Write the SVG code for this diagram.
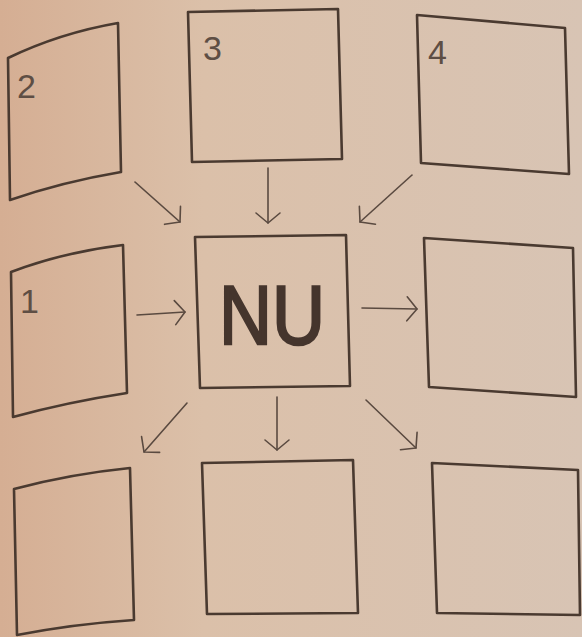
<svg xmlns="http://www.w3.org/2000/svg" width="582" height="637" viewBox="0 0 582 637">
<defs>
<linearGradient id="bg" x1="0" y1="0" x2="1" y2="0">
<stop offset="0" stop-color="#d5ae93"/>
<stop offset="0.35" stop-color="#dbc0a9"/>
<stop offset="1" stop-color="#d8c4b4"/>
</linearGradient>
<marker id="ah" markerUnits="userSpaceOnUse" viewBox="-14 -14 16 28" markerWidth="16" markerHeight="28" refX="0" refY="0" orient="auto">
<path d="M-10,-12 L0,0 L-10,12" fill="none" stroke="#5a4a40" stroke-width="1.6" stroke-linecap="round" stroke-linejoin="round"/>
</marker>
<style>
.box{fill:none;stroke:#4a3a30;stroke-width:2.6;stroke-linejoin:round}
.lbl{font-family:"Liberation Sans",Arial,sans-serif;font-size:34px;fill:#5e4e44}
.big{font-family:"Liberation Sans",Arial,sans-serif;font-size:84px;fill:#45352d;stroke:#45352d;stroke-width:2.4}
.arr{fill:none;stroke:#5a4a40;stroke-width:1.6;stroke-linecap:round;marker-end:url(#ah)}
</style>
</defs>
<rect width="582" height="637" fill="url(#bg)"/>
<g id="node-2">
<path class="box" d="M8,58 Q60,33 118,23 L121,172 Q62,182 10,200 Z"/>
<text class="lbl" x="17" y="98">2</text>
</g>
<g id="node-3">
<path class="box" d="M188,12 L338,9 L342,159 L192,162 Z"/>
<text class="lbl" x="203" y="60">3</text>
</g>
<g id="node-4">
<path class="box" d="M417,15 L565,28 L569,174 L421,163 Z"/>
<text class="lbl" x="428" y="64">4</text>
</g>
<g id="node-1">
<path class="box" d="M11,272 Q64,252 123,245 L127,393 Q68,402 13,417 Z"/>
<text class="lbl" x="20" y="313">1</text>
</g>
<g id="node-NU">
<path class="box" d="M195,237 L346,235 L350,386 L200,388 Z"/>
<text class="big" x="272" y="344" text-anchor="middle" textLength="106" lengthAdjust="spacingAndGlyphs">NU</text>
</g>
<g id="node-right">
<path class="box" d="M424,238 L573,248 L576,397 L429,387 Z"/>
</g>
<g id="node-bottom-left">
<path class="box" d="M14,489 Q70,474 130,468 L134,620 Q74,624 17,635 Z"/>
</g>
<g id="node-bottom-middle">
<path class="box" d="M202,463 L353,460 L358,613 L207,614 Z"/>
</g>
<g id="node-bottom-right">
<path class="box" d="M432,463 L578,470 L580,615 L437,613 Z"/>
</g>
<g id="connectors">
<line class="arr" x1="135" y1="182" x2="180" y2="222"/>
<line class="arr" x1="268" y1="168" x2="268" y2="223"/>
<line class="arr" x1="412" y1="175" x2="360" y2="222"/>
<line class="arr" x1="137" y1="315" x2="185" y2="312"/>
<line class="arr" x1="362" y1="308" x2="417" y2="309"/>
<line class="arr" x1="187" y1="403" x2="144" y2="452"/>
<line class="arr" x1="277" y1="397" x2="277" y2="450"/>
<line class="arr" x1="366" y1="400" x2="416" y2="448"/>
</g>
</svg>
